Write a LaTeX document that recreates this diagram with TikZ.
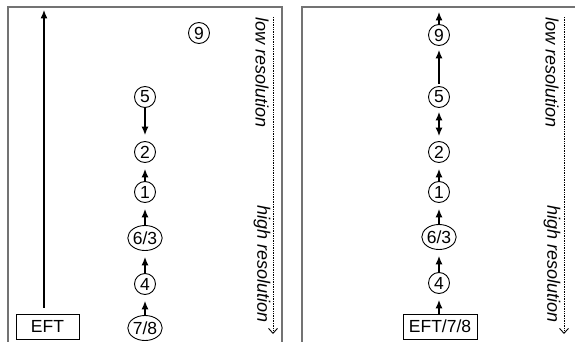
\documentclass[tikz,border=0pt]{standalone}
\usepackage{fontspec}
\setmainfont{Liberation Sans}
\usetikzlibrary{arrows.meta,shapes.geometric}
\begin{document}
\begin{tikzpicture}[x=1pt,y=-1pt,
  txt/.style={font=\fontsize{17.5}{19}\selectfont},
  num/.style={txt,draw,circle,line width=0.9pt,minimum size=21pt,inner sep=0pt},
  wide/.style={txt,draw,ellipse,line width=0.9pt,minimum width=29pt,minimum height=25pt,inner sep=0pt},
  boxed/.style={txt,draw,line width=0.9pt,minimum height=25pt,inner sep=0pt},
  frame/.style={draw=black!55,line width=1.3pt},
  arr/.style={line width=1.2pt,-{Latex[length=8.5pt,width=7pt]}},
  duo/.style={line width=1.2pt,{Latex[length=8.5pt,width=7pt]}-{Latex[length=8.5pt,width=7pt]}},
  scale arrow/.style={line width=0.7pt,densely dotted,-{Straight Barb[length=5pt,width=9pt,line width=0.9pt]}},
  axis label/.style={font=\fontsize{18}{20}\selectfont\itshape,rotate=-90,anchor=west,inner sep=0pt}]
\useasboundingbox (0,0) rectangle (575,342);

% panel frames, open at the bottom
\draw[frame] (8,345) -- (8,7) -- (282,7) -- (282,345);
\draw[frame] (302,345) -- (302,7) -- (578,7);

% ---------- left panel ----------
\node[boxed,minimum width=63pt] (eftL) at (47.5,326.5) {EFT};
\coordinate (eftTop) at (44,10);
\draw[arr,shorten <=6pt] (eftTop |- eftL.north) -- (eftTop);

\node[num]  (l9)  at (199,33)  {9};
\node[num]  (l5)  at (145,97)  {5};
\node[num]  (l2)  at (145,152) {2};
\node[num]  (l1)  at (145,192) {1};
\node[wide] (l63) at (145,238) {6/3};
\node[num]  (l4)  at (145,284) {4};
\node[wide] (l78) at (145,328) {7/8};

\draw[arr,shorten >=6pt] (l5) -- (l2);
\draw[arr,shorten >=6pt] (l1) -- (l2);
\draw[arr,shorten >=6pt] (l63) -- (l1);
\draw[arr,shorten >=6pt] (l4) -- (l63);
\draw[arr,shorten >=6pt] (l78) -- (l4);

\coordinate (ldTop) at (273,17);
\coordinate (ldBot) at (273,334);
\draw[scale arrow] (ldTop) -- (ldBot);
\node[axis label] (llow)  at (262,17)  {low resolution};
\node[axis label] (lhigh) at (262,205) {high resolution};

% ---------- right panel ----------
\node[boxed,minimum width=74pt] (eftR) at (440,326.5) {EFT/7/8};

\node[num]  (r9)  at (439,35)  {9};
\node[num]  (r5)  at (439,97)  {5};
\node[num]  (r2)  at (439,152) {2};
\node[num]  (r1)  at (439,192) {1};
\node[wide] (r63) at (439,237) {6/3};
\node[num]  (r4)  at (439,283) {4};
\coordinate (rTop) at (439,12);

\draw[arr] (r9) -- (rTop);
\draw[arr,shorten <=2pt,shorten >=4pt] (r5) -- (r9);
\draw[duo,shorten <=4pt,shorten >=5pt] (r5) -- (r2);
\draw[arr,shorten >=6pt] (r1) -- (r2);
\draw[arr,shorten >=6pt] (r63) -- (r1);
\draw[arr,shorten >=6pt] (r4) -- (r63);
\draw[arr,shorten >=6pt] (eftR.north -| r4) -- (r4);

\coordinate (rdTop) at (564,17);
\coordinate (rdBot) at (564,334);
\draw[scale arrow] (rdTop) -- (rdBot);
\node[axis label] (rlow)  at (552,17)  {low resolution};
\node[axis label] (rhigh) at (552,205) {high resolution};
\end{tikzpicture}
\end{document}
